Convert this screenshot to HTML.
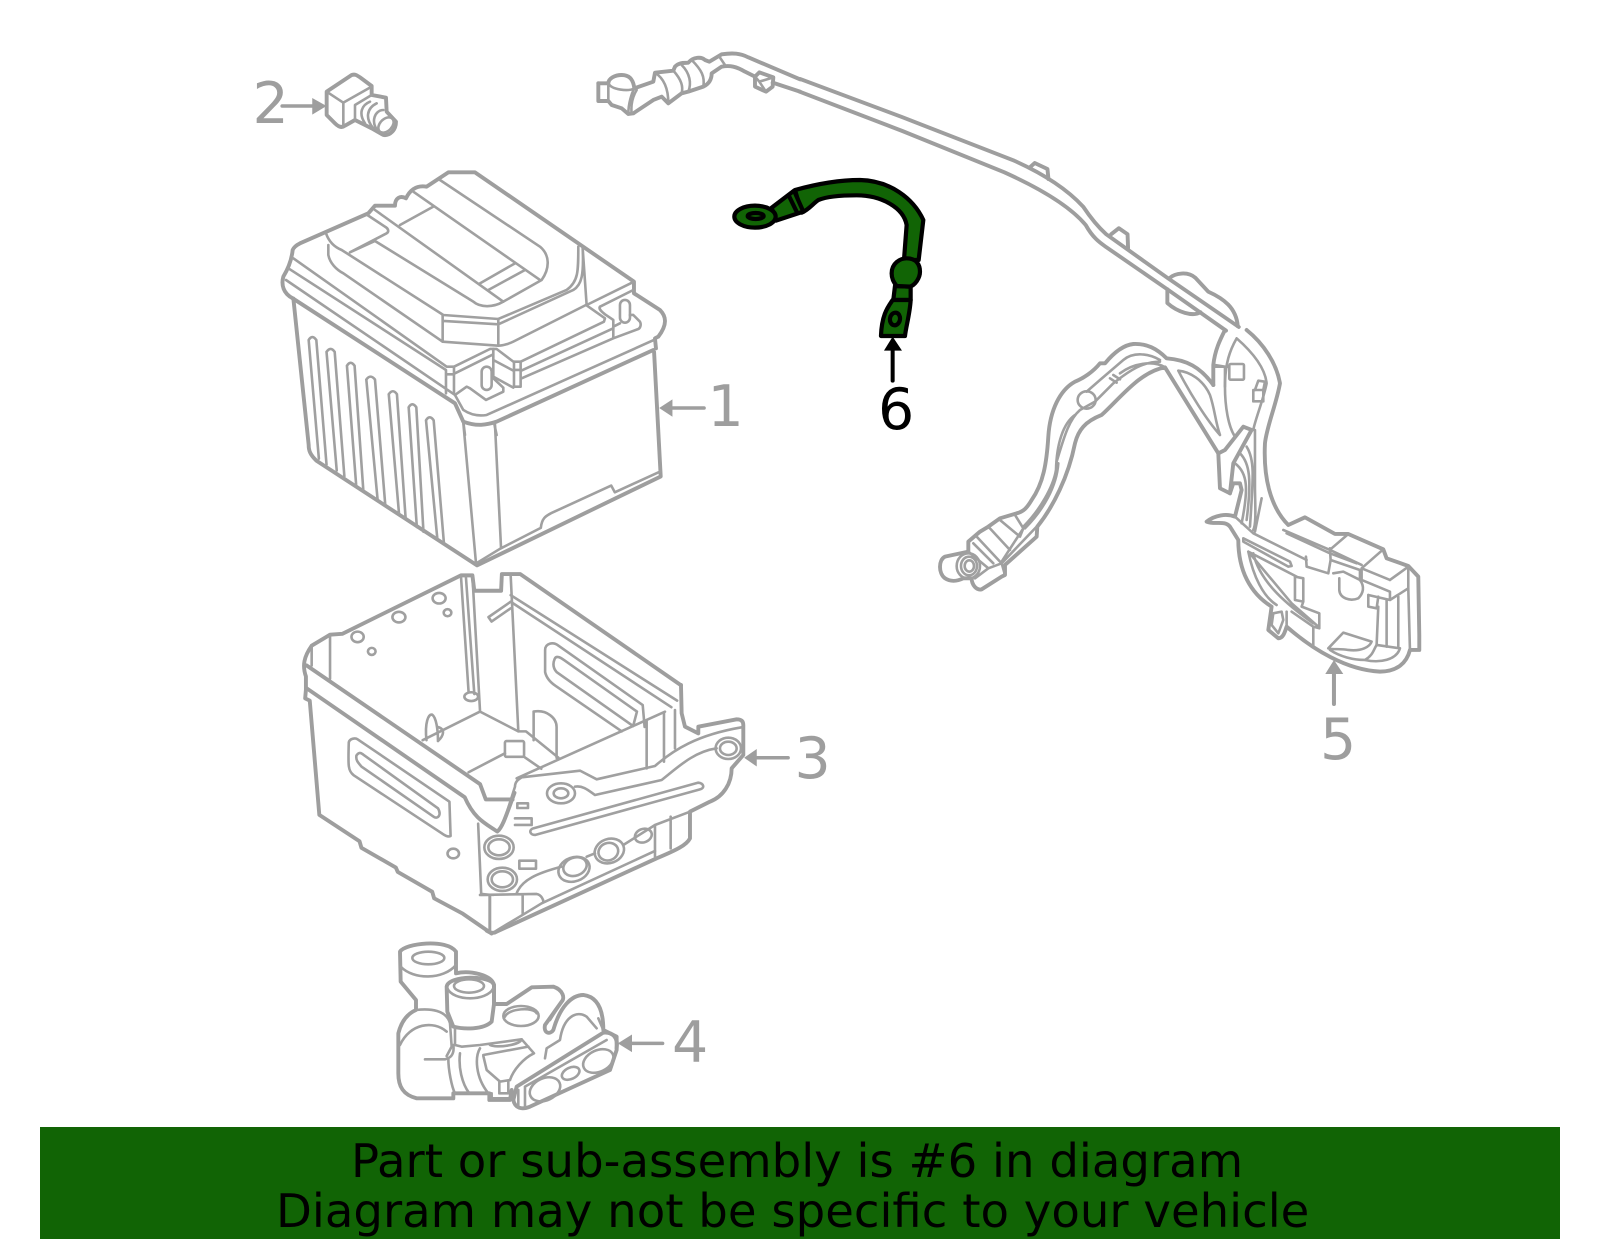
<!DOCTYPE html>
<html><head><meta charset="utf-8"><style>
html,body{margin:0;padding:0;background:#fff;width:1600px;height:1249px;overflow:hidden}
svg{display:block}
path,ellipse,rect,line{vector-effect:non-scaling-stroke;fill:none;stroke-linejoin:round;stroke-linecap:round}
.o path,.o ellipse,.o rect{stroke:#9e9e9e;stroke-width:3.9}
.i path,.i ellipse,.i rect{stroke:#a0a0a0;stroke-width:2.6}
.g path,.g ellipse{stroke:#000;stroke-width:4.2;fill:#116405}
text{font-family:"DejaVu Sans","Liberation Sans",sans-serif}
.n{font-size:57px;fill:#9e9e9e}
.b{font-size:46.6px;fill:#000}
</style></head><body>
<svg width="1600" height="1249" viewBox="0 0 1600 1249" xmlns="http://www.w3.org/2000/svg">
<rect x="0" y="0" width="1600" height="1249" style="fill:#fff;stroke:none"/>

<!-- Battery body (Z1) -->
<g transform="scale(.5102,.3954)">
 <g class="o">
  <path d="M575,755L605,1125C605,1140 608,1150 620,1165L935,1430L1295,1205L1282,890"/>
 </g>
 <g class="i">
  <path d="M605,860Q612,845 620,860L640,1175M605,860L625,1160"/>
  <path d="M640,890Q648,875 656,890L675,1205M640,890L660,1190"/>
  <path d="M680,925Q687,910 695,925L712,1238M680,925L698,1225"/>
  <path d="M718,960Q726,945 735,960L755,1275M718,960L740,1262"/>
  <path d="M762,997Q770,982 778,997L795,1310M762,997L782,1298"/>
  <path d="M801,1030Q808,1015 816,1030L830,1345M801,1030L817,1333"/>
  <path d="M835,1063Q842,1048 850,1063L870,1372M835,1063L857,1360"/>
  <path d="M908,1068L933,1425L980,1388L1060,1335C1062,1310 1070,1305 1080,1298L1198,1228L1205,1245L1295,1192M970,1070L982,1385"/>
 </g>
 <path d="M553,268L615,268" style="stroke:#9e9e9e;stroke-width:3.5"/>
 <path d="M640,268L612,248L612,290Z" style="fill:#9e9e9e;stroke:none"/>
 <path d="M1380,1032L1315,1032" style="stroke:#9e9e9e;stroke-width:3.5"/>
 <path d="M1292,1032L1318,1010L1318,1054Z" style="fill:#9e9e9e;stroke:none"/>
</g>

<!-- Battery top -->
<g transform="translate(280,165) scale(.3333)">
 <g class="o">
  <path d="M38,400C10,385 3,360 10,335C25,310 35,285 38,255C42,245 50,240 60,235L265,145L285,122L345,122C345,100 360,90 378,100C390,75 410,60 440,65L505,22L585,22L1062,350L1062,385L1140,435C1160,455 1162,480 1135,515L1125,520L1128,550"/>
  <path d="M1120,555L650,770C620,780 590,785 550,770L525,715L38,400"/>
 </g>
 <g class="i">
  <path d="M40,280L500,605L522,605L630,552L650,552L700,590L722,590L972,470L975,460L918,420"/>
  <path d="M25,310L498,615L498,685M18,345L525,690L550,735C565,745 590,755 620,750L1122,525"/>
  <path d="M138,205C145,225 160,245 185,255L490,450L655,462L860,375C895,350 895,320 895,245"/>
  <path d="M145,240L145,270C150,295 170,315 190,325L488,530L655,542C670,542 690,535 700,530L918,420"/>
  <path d="M655,478L880,375C905,360 912,330 908,248L920,420L1062,350"/>
  <path d="M488,450L488,530M490,468L655,478M655,462L655,542"/>
  <path d="M480,45L780,245C810,270 810,310 785,345L670,410C640,428 600,428 580,410L285,228L210,262M210,262L320,205C328,200 325,190 315,185L262,150"/>
  <path d="M400,80L780,345M460,125L360,180M285,135L670,410M600,355L705,295M625,375L735,315"/>
  <path d="M960,425L1060,375M960,425C955,432 965,440 975,448L1000,465L1000,520L725,640M1000,485L1020,475M1050,450L1060,450L1080,470C1085,480 1080,490 1075,492L1000,520"/>
  <rect x="1020" y="405" width="30" height="68" rx="15"/>
  <rect x="605" y="605" width="30" height="70" rx="15"/>
  <path d="M525,690L560,665L570,670L618,705L670,680L670,668L640,640"/>
  <path d="M522,605L522,685M500,628L522,628M702,590L702,665L722,665L722,590M702,615L722,615M722,618L1000,490M640,552L640,635M640,585L702,618M525,625L640,568M640,635L700,668"/>
  <path d="M550,770L555,810M642,772L650,810"/>
 </g>
</g>

<!-- Connector 2 -->
<g transform="translate(310,60) scale(.3333)">
 <g class="o">
  <path d="M50,95L125,45C135,42 140,45 150,52L185,78L185,105L228,113L230,155L258,185C258,210 240,228 220,225L185,205L135,180L105,197C95,205 85,200 75,190L50,165Z"/>
 </g>
 <g class="i">
  <path d="M50,95L100,128L100,197M100,128L185,80M135,180L135,135L185,105"/>
  <path d="M180,125C155,135 145,160 165,190M200,130C170,145 165,175 190,205M220,150C195,150 180,185 205,215"/>
  <ellipse cx="228" cy="195" rx="27" ry="18" transform="rotate(-45 228 195)"/>
 </g>
</g>

<!-- Terminal of long cable -->
<g transform="translate(590,40) scale(.3333)">
 <g class="o">
  <path d="M25,130L55,130C55,115 75,105 95,105C120,105 130,120 133,145L190,125L195,98L250,92L255,80C270,65 285,70 295,68C310,50 335,50 345,60L358,65L395,43C430,38 450,40 475,52L630,118"/>
  <path d="M25,130L25,183L55,183L65,195L95,205L115,222L130,220L190,180L215,170L235,190L275,160L295,155L340,140C360,130 365,115 365,100L395,80C420,75 440,80 465,95L495,110"/>
  <path d="M548,128L630,155"/>
  <path d="M495,110L508,97L550,112L548,140L528,155L495,140Z"/>
 </g>
 <g class="i">
  <path d="M55,130C65,150 115,155 133,145M55,130L55,183M133,145C125,160 115,190 115,222M140,150C128,170 122,195 125,220"/>
  <path d="M195,98C230,120 235,160 235,190M250,92C275,120 280,140 275,160M275,75C300,100 305,130 295,155M305,60C335,90 345,110 340,140M388,50L405,75"/>
  <path d="M508,125L550,112M508,125L495,110M508,125L528,155"/>
 </g>
</g>

<!-- Upper cable (Z2) -->
<g transform="translate(800,0) scale(.5102,.4592)">
 <g class="o">
  <path d="M0,172L200,255L420,350C490,385 530,420 555,450C570,475 585,495 600,510L720,605L860,712"/>
  <path d="M0,200L200,285L400,375C470,410 530,450 560,490C575,520 590,530 600,538L720,630L835,720"/>
  <path d="M720,630L720,660C740,680 770,690 785,680M725,605C735,595 760,590 775,605L800,635C830,650 855,670 858,710"/>
  <path d="M450,365L460,355L485,368L487,390M610,510L625,497L642,510L643,540"/>
 </g>
</g>

<!-- Lower harness (Z6) -->
<g transform="translate(900,330) scale(.3333)">
 <g class="o">
  <path d="M940,165C900,110 860,90 800,85C770,55 740,40 700,42C670,45 640,70 615,100L600,100C580,125 550,145 525,155C480,180 450,240 445,320C440,400 430,460 395,510C380,535 370,545 350,550L300,565L265,590L240,605L205,635L205,665L135,680C115,690 115,730 135,745C150,755 170,755 190,745L215,745C215,765 230,782 245,778L305,740L315,735L315,705L410,620L412,590C460,530 505,440 525,340C535,300 555,275 605,255C660,205 720,125 795,112L955,370L960,475L990,490L1000,460L1020,460L1025,480L1005,560C980,550 945,555 920,575C945,585 975,570 990,590L1015,630C1015,720 1050,790 1115,830L1105,900L1135,925C1150,925 1155,905 1160,890C1240,960 1340,1020 1440,1025C1490,1025 1520,1000 1530,960L1558,960L1558,915L1555,740L1525,708L1460,685L1450,658L1345,612L1305,612L1215,562L1165,585C1110,530 1090,440 1095,340C1100,290 1130,220 1140,160C1130,100 1090,40 1040,0"/>
  <path d="M975,0C960,30 945,60 940,105L940,165"/>
  <path d="M955,370L975,360L1030,290L1055,300L1000,400L990,490"/>
 </g>
 <g class="i">
  <path d="M1010,25C1050,60 1095,110 1100,160C1090,210 1065,270 1060,300M1010,25C990,60 975,100 975,170C975,230 985,290 1005,320"/>
  <path d="M945,105L975,110L975,170M945,110L985,110"/>
  <rect x="988" y="102" width="44" height="47" rx="4"/>
  <rect x="1060" y="180" width="30" height="34"/>
  <path d="M1065,180L1075,152L1095,155L1090,180"/>
  <path d="M835,122C870,125 910,150 930,195C945,240 945,270 960,315M835,122C870,190 920,270 960,315"/>
  <path d="M795,112C760,90 700,100 660,130M780,90C745,70 700,65 670,90L600,150L560,185M780,95C730,95 690,120 640,160L585,215L540,240C505,270 490,330 470,395"/>
  <ellipse cx="560" cy="210" rx="27" ry="26"/>
  <path d="M630,145L650,158M640,135L660,148"/>
  <path d="M525,255C490,280 470,340 468,420C460,470 420,540 370,590M475,400C470,470 430,540 375,595"/>
  <path d="M410,590L305,700L315,735M370,595L305,695M265,590L330,660M300,570L360,620L370,595L345,555M230,620L300,695M220,640L280,700M205,665L265,715L225,745M305,700L265,715"/>
  <ellipse cx="205" cy="708" rx="35" ry="38"/><ellipse cx="207" cy="708" rx="24" ry="28"/><ellipse cx="208" cy="708" rx="14" ry="17"/>
  <path d="M1065,300L1065,470C1065,520 1070,580 1060,600M1085,505L1065,605M1040,350C1065,390 1060,440 1050,590M1005,400C1045,430 1045,480 1025,580M1020,370C1050,400 1055,450 1040,570"/>
  <path d="M1005,560L1060,610L1220,690M1150,600L1290,660L1385,705M1160,610L1290,670L1370,700"/>
  <path d="M1030,625L1170,695L1175,708L1165,710L1030,635Z"/>
  <path d="M1045,665C1060,740 1090,800 1130,825M1045,665L1175,820L1255,890M1060,670C1080,760 1170,830 1240,880M1045,665L1190,740"/>
  <path d="M1218,680L1220,710L1285,730L1292,690L1290,655M1292,690L1380,720L1380,750M1300,730L1330,725L1380,750C1395,770 1390,790 1375,805C1350,815 1320,805 1318,780L1318,745"/>
  <path d="M1185,740L1210,745L1210,815L1185,810ZM1210,815L1205,830L1258,850L1258,895L1240,890M1175,845L1240,890L1240,945"/>
  <path d="M1295,655L1345,612L1450,658L1385,715L1385,750L1470,785L1470,810M1470,750L1525,710L1525,775L1470,810L1405,795M1470,750L1385,715M1405,795L1405,830L1430,835L1435,800M1435,830L1430,945M1460,810L1460,950M1495,800L1495,950"/>
  <path d="M1525,775L1530,960M1430,945C1420,960 1420,975 1395,990M1285,955L1330,908L1415,935C1410,950 1385,965 1345,960C1320,955 1300,960 1285,955M1290,960C1320,980 1360,990 1395,990C1440,1000 1490,990 1500,955L1430,945"/>
  <path d="M1120,850L1145,845L1150,870L1135,910M1120,850L1115,885L1135,910M1160,845L1160,890"/>
 </g>
 <path d="M1302,1122L1302,1030" style="stroke:#9e9e9e;stroke-width:4"/>
 <path d="M1302,990L1276,1032L1330,1032Z" style="fill:#9e9e9e;stroke:none"/>
</g>

<!-- Tray (Z3) -->
<g transform="translate(260,560) scale(.3827,.4394)">
 <g class="o">
  <path d="M605,850L530,805L455,770L450,755L360,710L355,700L265,655L260,640L155,580L130,320L118,315L120,295L120,265C110,240 115,220 135,195L183,170L215,168L525,35L555,35L560,70L630,70L632,32L680,32L1100,285"/>
  <path d="M122,240L575,510L590,545L660,545M122,292L535,540C560,590 590,600 620,618C632,610 640,590 665,530"/>
 </g>
 <g class="i">
  <path d="M135,195L135,240M183,170L183,270M525,35L545,300M538,38L560,305M555,35L575,345L675,390L655,35M575,345L425,410M675,390L695,390L780,450M545,483L640,440M690,448L735,475"/>
  <ellipse cx="552" cy="311" rx="18" ry="10"/>
  <path d="M597,130L655,95M597,130L605,140L655,110M655,80L1090,320M655,95L1075,335"/>
  <path d="M745,205C745,190 765,185 780,195L1000,330L1005,380M745,205L745,255C750,275 770,285 775,288L945,390"/>
  <path d="M770,225C775,215 790,225 795,228L985,345L975,378L775,255C765,245 765,235 770,225Z"/>
  <ellipse cx="255" cy="175" rx="16" ry="12"/><ellipse cx="292" cy="208" rx="10" ry="8"/><ellipse cx="363" cy="130" rx="17" ry="12"/><ellipse cx="468" cy="87" rx="17" ry="12"/><ellipse cx="490" cy="120" rx="10" ry="8"/>
  <path d="M435,410C430,370 440,350 450,352C460,358 465,385 465,410M465,380C485,385 480,400 465,412"/>
  <path d="M715,345C750,340 775,360 775,380L775,450M715,345L715,410"/>
  <rect x="640" y="412" width="50" height="36" rx="4"/>
  <path d="M570,600L578,760L600,762L600,845M578,762L610,762"/>
  <path d="M232,415C235,405 250,405 255,408L495,550L498,628C490,632 480,625 475,622L245,490C230,480 230,470 232,415Z"/>
  <path d="M252,445C260,435 265,440 270,443L465,565C475,580 465,590 455,585L265,470C255,460 250,455 252,445Z"/>
  <ellipse cx="505" cy="668" rx="15" ry="11"/>
 </g>
 <path d="M1380,450L1295,450" style="stroke:#9e9e9e;stroke-width:3.5"/>
 <path d="M1265,450L1298,430L1298,470Z" style="fill:#9e9e9e;stroke:none"/>
 <path d="M1052,1100L970,1100" style="stroke:#9e9e9e;stroke-width:3.5"/>
 <path d="M935,1100L972,1080L972,1120Z" style="fill:#9e9e9e;stroke:none"/>
</g>

<!-- Tray bracket / right side -->
<g transform="translate(480,690) scale(.3333)">
 <g class="o">
  <path d="M603,-15L605,70L615,110L655,130L655,110L770,88C785,88 790,95 790,105L790,195L755,235C755,280 730,320 690,335L630,365L630,445C620,465 590,480 530,505L50,725C40,732 30,728 20,722"/>
 </g>
 <g class="i">
  <path d="M110,265L555,65M500,90L500,235M552,68L552,215M585,60L585,175"/>
  <path d="M105,290C105,275 115,268 125,262L300,242L350,268L525,228C580,180 650,135 785,112M105,290L70,400"/>
  <path d="M285,290C310,285 330,305 345,315L545,270C590,235 640,185 710,175"/>
  <ellipse cx="745" cy="175" rx="38" ry="32"/><ellipse cx="745" cy="175" rx="25" ry="20"/>
  <ellipse cx="243" cy="310" rx="42" ry="30"/><ellipse cx="243" cy="310" rx="22" ry="15"/>
  <path d="M160,415L655,278C672,280 675,295 660,298L165,435C150,435 145,420 160,415Z"/>
  <rect x="112" y="340" width="32" height="14"/>
  <path d="M105,385L155,385L155,405L105,405"/>
  <rect x="118" y="512" width="50" height="24"/>
  <ellipse cx="57" cy="472" rx="44" ry="35"/><ellipse cx="57" cy="472" rx="32" ry="24"/>
  <ellipse cx="67" cy="568" rx="44" ry="35"/><ellipse cx="67" cy="568" rx="32" ry="24"/>
  <path d="M110,610C125,570 170,550 245,530M320,500L345,490M430,465L525,405L630,365M525,405L525,500M572,380L572,475"/>
  <ellipse cx="282" cy="538" rx="48" ry="36" transform="rotate(-20 282 538)"/>
  <ellipse cx="285" cy="530" rx="36" ry="27" transform="rotate(-20 285 530)"/>
  <ellipse cx="388" cy="483" rx="45" ry="36" transform="rotate(-20 388 483)"/>
  <ellipse cx="385" cy="485" rx="30" ry="26" transform="rotate(-20 385 485)"/>
  <ellipse cx="490" cy="437" rx="26" ry="20" transform="rotate(-20 490 437)"/>
  <path d="M45,725C60,715 120,680 185,640L525,483M0,615L170,612C185,615 190,630 190,635M30,615L30,722M128,615L128,670"/>
 </g>
</g>

<!-- Part 4 -->
<g transform="translate(390,930) scale(.3333)">
 <g class="o">
  <path d="M30,65C45,40 170,25 198,65L198,130C240,120 305,135 312,165L312,222L350,222L425,172L490,170C520,180 525,205 515,215L465,285C460,310 480,315 490,300C510,230 545,195 580,195C620,200 640,235 640,300L680,320L680,360L660,420L420,530C395,540 375,535 370,510L365,480L360,510L298,510L298,490L190,490L190,505L80,505C40,495 25,470 25,430L25,310C35,270 55,250 78,240L78,210L32,155Z"/>
  <path d="M170,170C175,135 305,135 312,165L312,222L305,275C280,300 220,298 190,290L172,245Z"/>
  <path d="M370,510L380,470L640,308C670,305 685,325 680,355"/>
 </g>
 <g class="i">
  <ellipse cx="115" cy="84" rx="48" ry="19"/>
  <path d="M32,110C70,150 160,150 198,105"/>
  <ellipse cx="237" cy="168" rx="45" ry="20"/>
  <path d="M172,175C190,215 290,215 310,175"/>
  <ellipse cx="393" cy="258" rx="53" ry="30"/>
  <path d="M345,260C355,235 430,230 440,250"/>
  <path d="M78,240C120,235 170,240 180,280L185,350L170,378M30,345C60,280 130,270 170,305M105,388L165,388C175,385 195,380 190,345"/>
  <path d="M195,295L195,345L215,350L270,345L395,328L432,370C400,385 370,420 360,450"/>
  <path d="M175,385C175,420 185,470 195,490M210,370C205,410 215,460 238,490M270,355C255,380 255,440 295,490M300,345C320,355 390,345 395,328M280,375L415,350M280,378L290,420L330,455L360,450M328,455L328,490L355,490L355,455M305,490L305,505L355,505"/>
  <path d="M385,480L385,530M405,470L405,530M405,470L650,330"/>
  <ellipse cx="465" cy="478" rx="48" ry="33" transform="rotate(-25 465 478)"/>
  <ellipse cx="542" cy="430" rx="28" ry="17" transform="rotate(-25 542 430)"/>
  <ellipse cx="625" cy="393" rx="48" ry="32" transform="rotate(-25 625 393)"/>
  <path d="M465,385L470,355L510,330C520,260 560,240 590,260L620,295M640,300L625,265M515,215L480,270"/>
 </g>
</g>

<!-- Green part (Z4) -->
<g transform="translate(700,160) scale(.3333)">
 <g class="g">
  <path d="M285,90C350,72 420,60 480,60C570,62 640,115 670,180L656,300L612,300L620,195C610,140 540,106 470,106C420,106 380,110 355,120C340,130 325,150 305,158Z"/>
  <path d="M215,143L282,92L310,155L228,182Z"/>
  <path d="M268,110L290,155" style="fill:none"/>
  <ellipse cx="165" cy="170" rx="62" ry="33"/>
  <ellipse cx="167" cy="168" rx="24" ry="9"/>
  <path d="M585,378L580,420L632,420L632,380Z"/>
  <path d="M578,420C560,445 545,470 543,528L615,528C618,500 630,460 632,420Z"/>
  <path d="M575,340C575,310 600,295 620,295C650,295 660,315 660,335C660,355 645,375 630,380L590,378C580,365 575,355 575,340Z"/>
  <ellipse cx="585" cy="477" rx="15" ry="19" transform="rotate(10 585 477)"/>
 </g>
 <path d="M578,662L578,570" style="stroke:#000;stroke-width:4"/>
 <path d="M578,530L552,572L606,572Z" style="fill:#000;stroke:none"/>
</g>

<!-- Labels -->
<text class="n" x="707.5" y="426">1</text>
<text class="n" x="252.5" y="123">2</text>
<text class="n" x="794.5" y="778">3</text>
<text class="n" x="672" y="1062">4</text>
<text class="n" x="1320" y="759">5</text>
<text class="n" x="878" y="429" style="fill:#000">6</text>

<!-- Banner -->
<rect x="40" y="1127" width="1520" height="112" style="fill:#116405;stroke:none"/>
<text class="b" x="351" y="1177">Part or sub-assembly is #6 in diagram</text>
<text class="b" x="276" y="1227">Diagram may not be specific to your vehicle</text>
</svg>
</body></html>
